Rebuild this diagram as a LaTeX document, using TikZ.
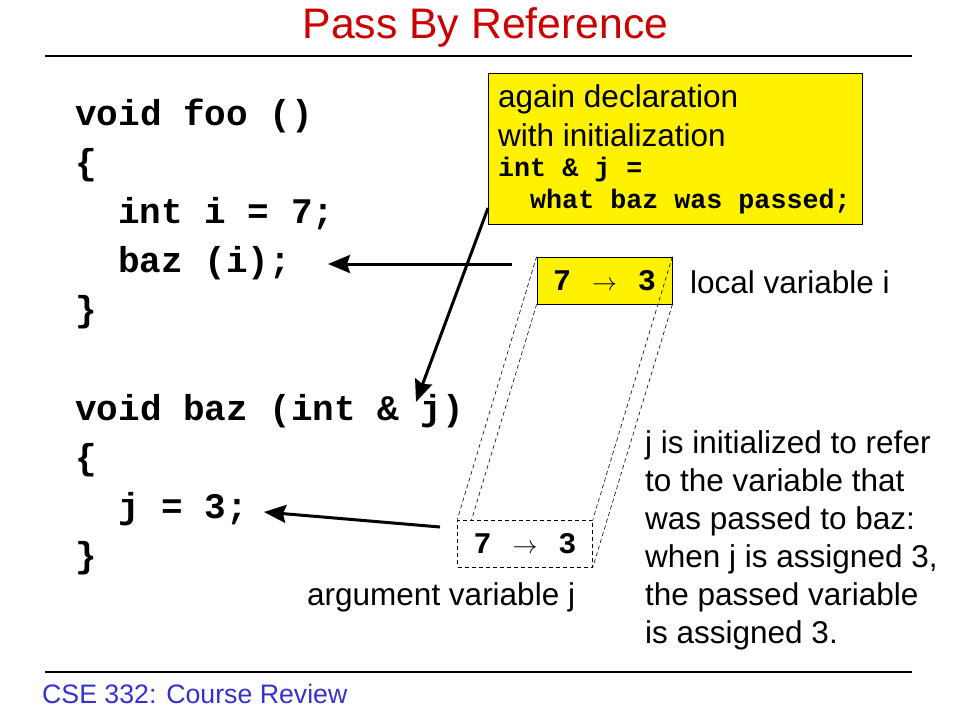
\documentclass[tikz,border=0pt]{standalone}
\usepackage{fontspec}
\setmainfont{Liberation Sans}
\setmonofont{Liberation Mono}
\usetikzlibrary{arrows.meta,calc}
\definecolor{titlered}{RGB}{204,0,0}
\definecolor{footblue}{RGB}{51,51,204}
\tikzset{
    every node/.style={inner sep=0mm}
}
\tikzset{
    code/.style={anchor=base west, font=\fontsize{36}{40}\selectfont\ttfamily\bfseries},
    prose/.style={anchor=base west, font=\fontsize{31.5}{38}\selectfont},
    smallcode/.style={anchor=base west, font=\fontsize{26.7}{30}\selectfont\ttfamily\bfseries},
    cell/.style={rectangle, draw, line width=.8pt, minimum width=135pt, minimum height=47pt, font=\fontsize{30}{34}\selectfont\ttfamily\bfseries},
    pointer/.style={line width=3pt, -{Stealth[length=22pt,width=18pt,inset=3pt]}},
    alias/.style={line width=.6pt, dash pattern=on 4pt off 3pt}
}

\begin{document}
\begin{tikzpicture}[x=1pt,y=-1pt]
        \useasboundingbox[fill=white] (0,0) rectangle (960,720);
        \node (title) [anchor=base, text=titlered, font=\fontsize{42.7}{48}\selectfont] at (485.5,38) {Pass By Reference};
        \draw [line width=1.2pt] (45,56) -- (912,56);
        \draw [line width=1.2pt] (45,672) -- (912,672);
        \node (foot) [anchor=base west, text=footblue, font=\fontsize{26.7}{30}\selectfont] at (42,703) {CSE 332: Course Review};
        % code
        \node (c0) [code] at (75,125) {void foo ()};
        \node (c1) [code] at (75,174) {\{};
        \node (c2) [code] at (118,223) {int i = 7;};
        \node (c3) [code] at (118,272) {baz (i);};
        \node (c4) [code] at (75,321) {\}};
        \node (c5) [code] at (75,420) {void baz (int \& j)};
        \node (c6) [code] at (75,469) {\{};
        \node (c7) [code] at (118,518) {j = 3;};
        \node (c8) [code] at (75,567) {\}};
        % note
        \node (note) [draw, line width=.8pt, fill=yellow, anchor=north west, minimum width=374pt, minimum height=151pt] at (488,73) {};
        \node (n0) [prose] at (498,107) {again declaration};
        \node (n1) [prose] at (498,146) {with initialization};
        \node (n2) [smallcode] at (498,176) {int \& j =};
        \node (n3) [smallcode] at (530,208) {what baz was passed;};
        % variables
        \node (vi) [cell, fill=yellow] at (604.5,280.5) {7\hspace{.7em}$\rightarrow$\hspace{.7em}3};
        \node (vj) [cell, alias] at (525,543.5) {7\hspace{.7em}$\rightarrow$\hspace{.7em}3};
        \node (li) [prose] at (690,293) {local variable i};
        \node (aj) [prose] at (307,605) {argument variable j};
        \node (r0) [prose] at (645,453) {j is initialized to refer};
        \node (r1) [prose] at (645,491) {to the variable that};
        \node (r2) [prose] at (645,529) {was passed to baz:};
        \node (r3) [prose] at (645,567) {when j is assigned 3,};
        \node (r4) [prose] at (645,605) {the passed variable};
        \node (r5) [prose] at (645,643) {is assigned 3.};
        \coordinate (s1) at (512,264);
        \coordinate (t1) at (328,264);
        \coordinate (s2) at (488,208);
        \coordinate (t2) at (416,402);
        \coordinate (s3) at (440,527);
        \coordinate (t3) at (264,512);
        \draw (vi.north west) edge [alias] (vj.north west);
        \draw (vi.south west) edge [alias] ($(vi.south west)!0.821!(vj.south west)$);
        \draw (vi.north east) edge [alias] (vj.north east);
        \draw (vi.south east) edge [alias] (vj.south east);
        \draw (s1) edge [pointer] (t1);
        \draw (s2) edge [pointer] (t2);
        \draw (s3) edge [pointer] (t3);
\end{tikzpicture}
\end{document}
